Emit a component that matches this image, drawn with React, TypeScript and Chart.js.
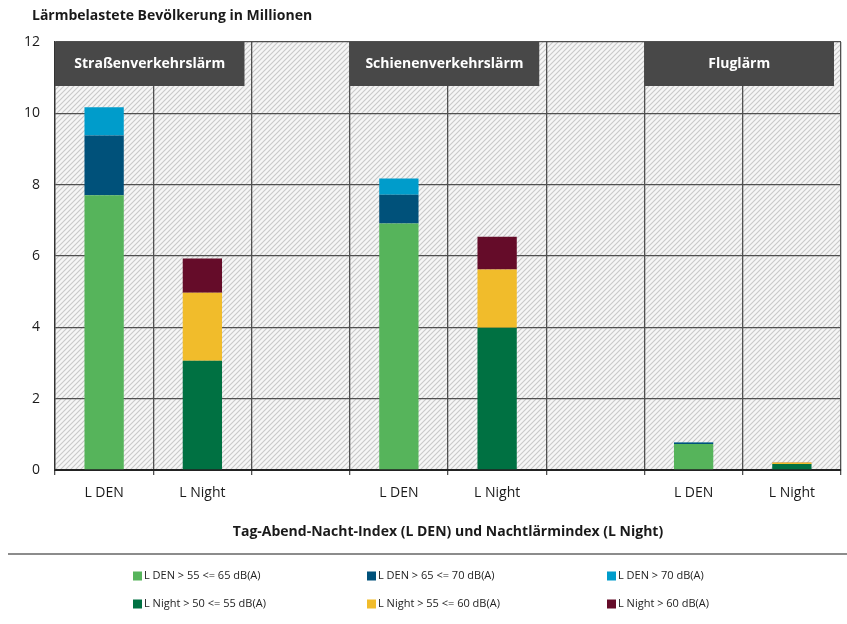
import React, { useEffect, useRef } from "react";
import { Chart, registerables } from "chart.js";

Chart.register(...registerables);

const categories = ["L DEN", "L Night", "", "L DEN", "L Night", "", "L DEN", "L Night"];
const groupNames = ["Straßenverkehrslärm", "Schienenverkehrslärm", "Fluglärm"];
const groupFirstIndex = [0, 3, 6];
const groupLastIndex = [1, 4, 7];

const denLow = [7.7, null, null, 6.91, null, null, 0.73, null];
const denMid = [1.68, null, null, 0.81, null, null, 0.04, null];
const denHigh = [0.79, null, null, 0.45, null, null, 0.005, null];
const nightLow = [null, 3.06, null, null, 3.99, null, null, 0.17];
const nightMid = [null, 1.91, null, null, 1.63, null, null, 0.04];
const nightHigh = [null, 0.96, null, null, 0.92, null, null, 0.005];

const seriesLabels = [
  "L DEN > 55 <= 65 dB(A)",
  "L DEN > 65 <= 70 dB(A)",
  "L DEN > 70 dB(A)",
  "L Night > 50 <= 55 dB(A)",
  "L Night > 55 <= 60 dB(A)",
  "L Night > 60 dB(A)",
];
const seriesColors = ["#56b45b", "#00517a", "#009ccb", "#007142", "#f1bc2b", "#650c29"];

const yTicks = [0, 2, 4, 6, 8, 10, 12];

const chartTitle = "Lärmbelastete Bevölkerung in Millionen";
const xTitle = "Tag-Abend-Nacht-Index (L DEN) und Nachtlärmindex (L Night)";

const FONT = "'Open Sans', 'DejaVu Sans', sans-serif";

function makePattern(ctx: CanvasRenderingContext2D) {
  const s = 5;
  const c = document.createElement("canvas");
  c.width = s;
  c.height = s;
  const p = c.getContext("2d")!;
  p.fillStyle = "#f6f6f6";
  p.fillRect(0, 0, s, s);
  p.strokeStyle = "#c9c9c9";
  p.lineWidth = 1.1;
  p.beginPath();
  p.moveTo(-1, s + 1);
  p.lineTo(s + 1, -1);
  p.moveTo(-1, 1);
  p.lineTo(1, -1);
  p.moveTo(s - 1, s + 1);
  p.lineTo(s + 1, s - 1);
  p.stroke();
  return ctx.createPattern(c, "repeat");
}

const decorPlugin = {
  id: "decor",
  beforeDraw(chart: any) {
    const { ctx, chartArea } = chart;
    ctx.save();
    const pat = makePattern(ctx);
    ctx.fillStyle = pat || "#eee";
    ctx.fillRect(chartArea.left, chartArea.top, chartArea.right - chartArea.left, chartArea.bottom - chartArea.top);
    ctx.restore();
    ctx.save();
    ctx.fillStyle = "#1a1a1a";
    ctx.font = `bold 14px ${FONT}`;
    ctx.textBaseline = "middle";
    ctx.textAlign = "left";
    ctx.fillText(chartTitle, 32, 16);
    ctx.restore();
  },
  afterDatasetsDraw(chart: any) {
    const { ctx, chartArea, scales } = chart;
    const x = scales.x;
    const slot = x.getPixelForValue(1) - x.getPixelForValue(0);
    ctx.save();
    groupNames.forEach((name, i) => {
      const left = x.getPixelForValue(groupFirstIndex[i]) - slot / 2;
      const right = x.getPixelForValue(groupLastIndex[i]) + slot / 2 - 7;
      const top = chartArea.top;
      const h = 44;
      ctx.fillStyle = "#484848";
      ctx.fillRect(left, top, right - left, h);
      ctx.fillStyle = "#ffffff";
      ctx.font = `bold 14px ${FONT}`;
      ctx.textAlign = "center";
      ctx.textBaseline = "middle";
      ctx.fillText(name, (left + right) / 2, top + h / 2);
    });
    ctx.restore();
  },
  afterDraw(chart: any) {
    const { ctx } = chart;
    ctx.save();
    ctx.strokeStyle = "#8c8c8c";
    ctx.lineWidth = 2;
    ctx.beginPath();
    ctx.moveTo(8, 554);
    ctx.lineTo(847, 554);
    ctx.stroke();
    const colX = [133, 367, 607];
    const rowY = [576, 604];
    ctx.font = `11px ${FONT}`;
    ctx.textBaseline = "middle";
    ctx.textAlign = "left";
    chart.data.datasets.forEach((ds: any, i: number) => {
      const cx = colX[i % 3];
      const cy = rowY[Math.floor(i / 3)];
      ctx.fillStyle = ds.backgroundColor;
      ctx.fillRect(cx, cy - 4.5, 9, 9);
      ctx.fillStyle = "#222";
      ctx.fillText(ds.label, cx + 11, cy);
    });
    ctx.restore();
  },
};

export default function App() {
  const ref = useRef<HTMLCanvasElement | null>(null);
  useEffect(() => {
    if (!ref.current) return;
    const series = [denLow, denMid, denHigh, nightLow, nightMid, nightHigh];
    const chart = new Chart(ref.current, {
      type: "bar",
      data: {
        labels: categories,
        datasets: series.map((d, i) => ({
          label: seriesLabels[i],
          data: d,
          backgroundColor: seriesColors[i],
          borderWidth: 0,
          barPercentage: 0.4,
          categoryPercentage: 1,
        })),
      },
      options: {
        animation: false,
        responsive: true,
        maintainAspectRatio: false,
        layout: { padding: { left: 0, right: 6, top: 42, bottom: 0 } },
        plugins: {
          legend: { display: false },
          title: { display: false },
          tooltip: { enabled: false },
        },
        scales: {
          x: {
            stacked: true,
            afterFit: (s: any) => {
              s.height = 154;
            },
            grid: {
              offset: true,
              color: "#505050",
              lineWidth: 1.3,
              tickLength: 5,
              drawTicks: true,
            },
            border: { color: "#222222", width: 2 },
            ticks: {
              color: "#1a1a1a",
              font: { family: FONT, size: 14 },
              padding: 10,
              maxRotation: 0,
              autoSkip: false,
            },
            title: {
              display: true,
              text: xTitle,
              color: "#1a1a1a",
              font: { family: FONT, size: 14, weight: "bold" },
              padding: { top: 0, bottom: 84 },
            },
          },
          y: {
            stacked: true,
            min: 0,
            max: 12,
            afterFit: (s: any) => {
              s.width = 55;
            },
            afterBuildTicks: (s: any) => {
              s.ticks = yTicks.map((v) => ({ value: v }));
            },
            grid: { color: "#505050", lineWidth: 1.3, drawTicks: false },
            border: { color: "#333333", width: 1.3 },
            ticks: {
              color: "#1a1a1a",
              font: { family: FONT, size: 14 },
              padding: 15,
            },
          },
        },
      },
      plugins: [decorPlugin],
    } as any);
    return () => chart.destroy();
  }, []);
  return (
    <div style={{ position: "absolute", left: 0, top: 0, width: 847, height: 624, background: "#fff" }}>
      <canvas ref={ref} />
    </div>
  );
}
